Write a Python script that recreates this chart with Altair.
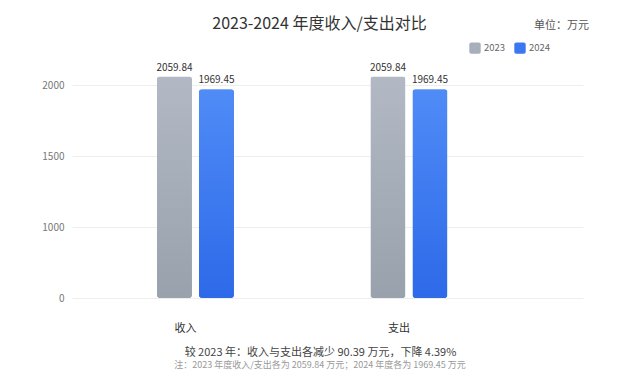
import altair as alt
import pandas as pd

categories = ["收入", "支出"]
years = ["2023", "2024"]
values_2023 = [2059.84, 2059.84]
values_2024 = [1969.45, 1969.45]
y_ticks = [0, 1000, 1500, 2000]

title_text = "2023-2024 年度收入/支出对比"
unit_text = "单位：万元"
summary_text = "较 2023 年：收入与支出各减少 90.39 万元，下降 4.39%"
note_text = "注：2023 年度收入/支出各为 2059.84 万元；2024 年度各为 1969.45 万元"

rows = []
for i, c in enumerate(categories):
    rows.append({"cat": c, "year": years[0], "value": values_2023[i], "label": f"{values_2023[i]:.2f}"})
    rows.append({"cat": c, "year": years[1], "value": values_2024[i], "label": f"{values_2024[i]:.2f}"})
df = pd.DataFrame(rows)

FONT = "Noto Sans CJK SC"
W, H = 511, 238

x_enc = alt.X("cat:N", sort=categories,
              scale=alt.Scale(domain=categories, paddingInner=0, paddingOuter=0.1967, align=0.199),
              axis=alt.Axis(title=summary_text, labelAngle=0, labelFontSize=11, labelColor="#333",
                            labelPadding=24, labelOffset=-10, domain=False, ticks=False, grid=False,
                            titleFontSize=11, titleColor="#444", titleFontWeight="normal",
                            titleX=248, titleY=54, titleAlign="center", titleBaseline="middle",
                            labelFont=FONT, titleFont=FONT))
xo_enc = alt.XOffset("year:N", sort=years,
                     scale=alt.Scale(domain=years, range=[68.25, 145.25], paddingInner=0.1667, paddingOuter=0))
y_scale = alt.Scale(domain=y_ticks, range=[238, 167, 96, 25], nice=False, zero=False)
y_enc = alt.Y("value:Q", scale=y_scale,
              axis=alt.Axis(title=unit_text, values=y_ticks, format="d", labelFontSize=10, labelColor="#777",
                            labelPadding=8, domain=False, ticks=False, grid=True,
                            gridColor="#eeeeee", gridWidth=1,
                            titleAngle=0, titleX=489, titleY=-35, titleAlign="center",
                            titleBaseline="middle", titleFontSize=11, titleColor="#555",
                            titleFontWeight="normal", labelFont=FONT, titleFont=FONT))

base = alt.Chart(df)

legend_layer = base.mark_bar(cornerRadius=3).encode(
    x=x_enc, xOffset=xo_enc, y=y_enc,
    color=alt.Color("year:N", sort=years,
                    scale=alt.Scale(domain=years, range=["#a7afba", "#3b78f0"]),
                    legend=alt.Legend(title=None, orient="none", legendX=397, legendY=-18,
                                      direction="horizontal", symbolSize=130,
                                      symbolType="M-0.65,-1L0.65,-1Q1,-1 1,-0.65L1,0.65Q1,1 0.65,1L-0.65,1Q-1,1 -1,0.65L-1,-0.65Q-1,-1 -0.65,-1Z",
                                      symbolStrokeWidth=0, labelFontSize=9.5, labelColor="#666",
                                      labelOffset=3, columnPadding=8, labelFont=FONT))
)

grad_2023 = alt.Gradient(gradient="linear", x1=0, y1=0, x2=0, y2=1,
                         stops=[alt.GradientStop(color="#b2b9c4", offset=0),
                                alt.GradientStop(color="#98a1ac", offset=1)])
grad_2024 = alt.Gradient(gradient="linear", x1=0, y1=0, x2=0, y2=1,
                         stops=[alt.GradientStop(color="#4f8cf7", offset=0),
                                alt.GradientStop(color="#2e69e8", offset=1)])

bars_2023 = base.transform_filter(alt.datum.year == "2023").mark_bar(cornerRadius=3, color=grad_2023).encode(
    x=x_enc, xOffset=xo_enc, y=y_enc)
bars_2024 = base.transform_filter(alt.datum.year == "2024").mark_bar(cornerRadius=3, color=grad_2024).encode(
    x=x_enc, xOffset=xo_enc, y=y_enc)

labels = base.mark_text(baseline="bottom", dy=-4, fontSize=10, color="#333", font=FONT).encode(
    x=x_enc, xOffset=xo_enc, y=y_enc, text="label:N")

note = alt.Chart(pd.DataFrame({"t": [note_text]})).mark_text(
    fontSize=9, color="#999", font=FONT, baseline="middle", align="center").encode(
    x=alt.value(248), y=alt.value(305), text="t:N")

chart = alt.layer(legend_layer, bars_2023, bars_2024, labels, note).properties(
    width=W, height=H,
    autosize=alt.AutoSizeParams(type="none"),
    padding={"left": 64, "top": 52, "right": 49, "bottom": 72},
    title=alt.TitleParams(title_text, fontSize=16, color="#333", font=FONT, fontWeight="normal",
                          anchor="middle", dx=-8, offset=0, dy=13),
    background="white",
).configure_view(stroke=None)

chart.save("out.html", embed_options={"renderer": "svg", "actions": False})
